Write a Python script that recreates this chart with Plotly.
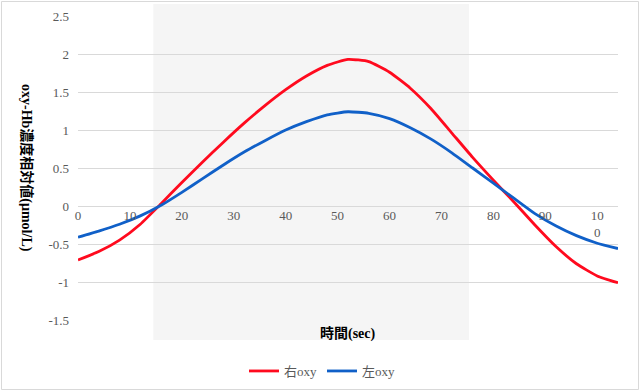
import plotly.graph_objects as go

# Time (sec)
time_sec = [0, 4, 8, 12, 16, 20, 24, 28, 32, 36, 40, 44, 48, 52, 56, 60, 64, 68, 72, 76, 80, 84, 88, 92, 96, 100, 104]
# 右oxy (right hemisphere)
right_oxy = [-0.71, -0.60, -0.45, -0.24, 0.03, 0.31, 0.58, 0.84, 1.09, 1.32, 1.53, 1.71, 1.85, 1.93, 1.90, 1.76,
             1.55, 1.28, 0.96, 0.64, 0.34, 0.05, -0.25, -0.53, -0.76, -0.92, -1.01]
# 左oxy (left hemisphere)
left_oxy = [-0.41, -0.33, -0.24, -0.13, 0.01, 0.18, 0.36, 0.54, 0.71, 0.86, 1.00, 1.11, 1.20, 1.24, 1.22, 1.15,
            1.03, 0.88, 0.70, 0.50, 0.30, 0.10, -0.10, -0.26, -0.39, -0.49, -0.56]

x_tick_vals = [0, 10, 20, 30, 40, 50, 60, 70, 80, 90, 100]
x_tick_text = ["0", "10", "20", "30", "40", "50", "60", "70", "80", "90", "10<br>0"]
y_tick_vals = [-1.5, -1, -0.5, 0, 0.5, 1, 1.5, 2, 2.5]
y_tick_text = ["-1.5", "-1", "-0.5", "0", "0.5", "1", "1.5", "2", "2.5"]

task_start, task_end = 14.5, 75.3

W, H = 640, 392
L, R, T, B = 78, 22, 16, 72
pw, ph = W - L - R, H - T - B

serif = "Liberation Serif, Noto Sans CJK JP, serif"
cjk = "Noto Sans CJK JP"
grid = "#d9d9d9"
tickc = "#595959"

fig = go.Figure()
fig.add_trace(go.Scatter(x=time_sec, y=right_oxy, mode="lines", name="右oxy",
                         line=dict(color="#ff0a1e", width=2.8, shape="spline", smoothing=0.5)))
fig.add_trace(go.Scatter(x=time_sec, y=left_oxy, mode="lines", name="左oxy",
                         line=dict(color="#1060c8", width=2.8, shape="spline", smoothing=0.5)))

def py(pix):
    return (H - B - pix) / ph

def px(pix):
    return (pix - L) / pw

# task shading
fig.add_shape(type="rect", xref="x", yref="paper", x0=task_start, x1=task_end,
              y0=py(340), y1=py(4), fillcolor="#f5f5f5", line=dict(width=0), layer="below")
# chart border
fig.add_shape(type="rect", xref="paper", yref="paper", x0=px(1.5), x1=px(638.5),
              y0=py(389.5), y1=py(1.5), line=dict(color="#d9d9d9", width=1), layer="below")

fig.update_layout(
    width=W, height=H,
    margin=dict(l=L, r=R, t=T, b=B, autoexpand=False),
    paper_bgcolor="white", plot_bgcolor="rgba(0,0,0,0)",
    font=dict(family=serif, size=13, color=tickc),
    showlegend=True,
    legend=dict(orientation="h", x=px(322), xanchor="center", y=py(371), yanchor="middle",
                font=dict(family=serif, size=13, color=tickc), itemwidth=30),
    xaxis=dict(range=[0, 104], tickvals=x_tick_vals, ticktext=x_tick_text, showgrid=False,
               zeroline=False, anchor="free", position=py(206), showline=False,
               ticks="", automargin=False, tickfont=dict(family=serif, size=13, color=tickc)),
    yaxis=dict(range=[-1.5, 2.5], tickvals=y_tick_vals, ticktext=y_tick_text, showgrid=True,
               gridcolor=grid, gridwidth=1, zeroline=True, zerolinecolor=grid, zerolinewidth=1,
               ticks="", ticklabelstandoff=8, automargin=False,
               tickfont=dict(family=serif, size=13, color=tickc)),
)

fig.add_annotation(text=f"<b>{'<span style=\"font-family:' + cjk + '\">時間</span>'}(sec)</b>",
                   xref="paper", yref="paper", x=px(348), y=py(332),
                   showarrow=False, font=dict(family=serif, size=14, color="#000000"),
                   xanchor="center", yanchor="middle")
fig.add_annotation(text="<b>oxy-Hb<span style=\"font-family:" + cjk + "\">濃度相対値</span>(μmol/L)</b>",
                   xref="paper", yref="paper", x=px(28), y=py(168),
                   showarrow=False, textangle=90, font=dict(family=serif, size=14, color="#000000"),
                   xanchor="center", yanchor="middle")

fig.write_html("out.html", config={"displayModeBar": False},
               post_script="document.body.style.margin='0';document.body.style.overflow='hidden';")
